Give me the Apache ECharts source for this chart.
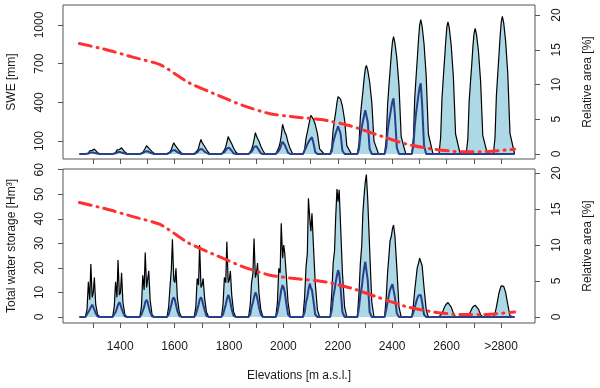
<!DOCTYPE html>
<html>
<head>
<meta charset="utf-8">
<script src="https://cdn.jsdelivr.net/npm/echarts@6/dist/echarts.min.js"></script>
<style>
  html, body { margin: 0; padding: 0; background: #fff; }
  #chart { width: 600px; height: 388px; }
</style>
</head>
<body>
<div id="chart"></div>
<script>
// elevation bands (one tick per band)
var bands = ['1300','1400','1500','1600','1700','1800','1900','2000',
             '2100','2200','2300','2400','2500','2600','2700','>2800'];
var labelIdx = [1, 3, 5, 7, 9, 11, 13, 15];

// position of the samples inside one band (band = 1 unit wide)
var offsets = [-0.5, -0.28, -0.22, -0.17, -0.12, -0.08, -0.03, 0.01, 0.05, 0.1, 0.17, 0.25, 0.33, 0.5];

// SWE [mm] - black curve, one row per band
var sweMax = [
  [0,0,0,8,25,38,28,25,38,28,10,2,0,0],
  [0,0,0,10,30,45,35,30,48,35,15,3,0,0],
  [0,0,2,12,25,45,64,50,45,32,18,5,0,0],
  [0,0,3,18,35,60,88,70,60,45,25,8,0,0],
  [0,0,5,25,45,80,112,90,80,60,35,10,0,0],
  [0,0,5,30,55,90,135,115,100,80,45,15,0,0],
  [0,0,8,35,70,110,165,140,120,100,60,25,0,0],
  [0,0,10,50,90,140,230,200,170,150,90,40,5,0],
  [0,0,35,120,170,210,265,300,290,270,230,160,40,0],
  [0,0,55,190,265,320,400,445,450,425,370,265,65,0],
  [0,0,80,290,400,480,590,660,686,650,560,400,100,0],
  [0,0,110,380,530,640,780,870,909,860,745,530,135,0],
  [0,0,125,440,605,730,895,1000,1042,990,855,605,155,0],
  [0,0,125,430,595,720,880,985,1025,975,840,595,155,0],
  [0,0,115,410,565,680,840,935,974,925,800,565,145,0],
  [0,0,130,450,620,750,920,1025,1067,1015,875,620,160,0]
];
// SWE [mm] - blue curve
var sweMean = [
  [0,0,0,4,8,12,15,12,10,5,1,0,0,0],
  [0,0,0,5,10,15,18,15,13,7,1,0,0,0],
  [0,0,1,7,13,20,25,22,18,10,2,0,0,0],
  [0,0,2,10,18,28,35,30,24,14,2,0,0,0],
  [0,0,2,12,22,35,45,38,30,18,3,0,0,0],
  [0,0,3,15,28,42,55,48,40,25,5,0,0,0],
  [0,0,4,18,35,55,70,60,50,30,6,0,0,0],
  [0,0,5,25,45,70,95,85,70,45,10,0,0,0],
  [0,0,15,50,75,90,110,125,130,90,15,0,0,0],
  [0,0,25,90,130,160,190,215,225,160,25,0,0,0],
  [0,0,40,140,205,250,300,340,355,250,40,0,0,0],
  [0,0,50,175,250,300,365,410,432,300,50,0,0,0],
  [0,0,65,220,320,385,465,520,548,385,65,0,0,0],
  [0,0,0,0,0,0,0,0,0,0,0,0,0,0],
  [0,0,0,0,0,0,0,0,0,0,0,0,0,0],
  [0,0,0,0,0,0,0,0,0,0,0,0,0,0]
];
// Total water storage [Hm3] - black curve
var twsMax = [
  [0,0,3,14.3,7,21.6,8,10,16.1,5,1,0,0,0],
  [0,0,4,14.3,8,23.2,9,10,18,6,1,0,0,0],
  [0,0,4,17,11,26.3,12,12,18.8,7,1,0,0,0],
  [0,0,4,12,19.5,31.7,15,14,19.8,8,2,0,0,0],
  [0,0,4,15.7,13,29.3,12,13,15.7,8,2,0,0,0],
  [0,0,5,16.1,14,30.7,14,15,18.7,9,2,0,0,0],
  [0,0,5,14,17.7,32,16,18,22,10,3,0,0,0],
  [0,0,6,19.8,18,38.2,24,29.3,26,18,6,0,0,0],
  [0,0,8,20,26,48.4,40,35,42.3,30,14,3,0,0],
  [0,0,10,22,27,40,52.1,47,51.8,38,18,4,0,0],
  [0,0,10,22,29,42,50,55,58,48,28,6,0,0],
  [0,0,8,18,25,31,33,36,37.5,33,20,4,0,0],
  [0,0,5,11,16,20,22,24,24.5,21,12,3,0,0],
  [0,0,0.5,1.5,2.8,4,5,5.6,5.9,5.5,4,1.5,0,0],
  [0,0,0.3,1,2.2,3.2,4.2,4.7,4.8,4.4,3.2,1,0,0],
  [0,0,1.5,4,7,9.5,11.5,12.7,13,12.5,10,5,0.5,0]
];
// Total water storage [Hm3] - blue curve
var twsMean = [
  [0,0,0.5,2,3,4,5,4,3,1.5,0.2,0,0,0],
  [0,0,0.5,2,3.5,5,6,5,3.5,2,0.3,0,0,0],
  [0,0,1,2.5,4,6,7,6,4,2,0.3,0,0,0],
  [0,0,1,3,5,7,8,7,5,2.5,0.5,0,0,0],
  [0,0,1,3,5,7,8,7,5,3,0.5,0,0,0],
  [0,0,1,3,5,7,9,8,6,3,0.5,0,0,0],
  [0,0,1,4,6,8,10,9,7,4,1,0,0,0],
  [0,0,2,5,8,11,13,12,10,6,1,0,0,0],
  [0,0,2,6,8,11,13.6,12,11,7,1,0,0,0],
  [0,0,3,8,11,14,17,19.1,18,12,2,0,0,0],
  [0,0,4,9,12,16,20,22.5,23.2,15,2,0,0,0],
  [0,0,3,6,9,11,12.5,13.4,13,8,1.5,0,0,0],
  [0,0,2,4,6,7.5,8.8,9.3,9,6,1,0,0,0],
  [0,0,0,0,0,0,0,0,0,0,0,0,0,0],
  [0,0,0,0,0,0,0,0,0,0,0,0,0,0],
  [0,0,0,0,0,0,0,0,0,0,0,0,0,0]
];
// relative area [%] at the band edges
var relArea = [15.9, 15.0, 13.9, 12.8, 10.3, 8.6, 7.0, 5.8, 5.3, 4.9, 4.0, 2.7, 1.45, 0.7, 0.33, 0.35, 0.7];

var sweTicks = [100, 400, 700, 1000];
var twsTicks = [0, 10, 20, 30, 40, 50, 60];
var areaTicks = [0, 5, 10, 15, 20];

function toXY(rows) {
  var out = [];
  rows.forEach(function (row, i) {
    row.forEach(function (v, j) { out.push([i + offsets[j], v]); });
  });
  return out;
}
var areaXY = relArea.map(function (v, k) { return [k - 0.5, v]; });

var font = 'Liberation Sans, Arial, sans-serif';
var txt = '#1a1a1a';
var boxCol = '#555';

function yAx(grid, min, max, ticks, name, right, gap, margin) {
  return {
    type: 'value', gridIndex: grid, min: min, max: max,
    position: right ? 'right' : 'left',
    name: name, nameLocation: 'middle', nameGap: gap, nameRotate: 90,
    nameTextStyle: { fontFamily: font, fontSize: 12, color: txt },
    axisLine: { show: false, onZero: false },
    splitLine: { show: false },
    axisTick: { show: true, length: 5, customValues: ticks, lineStyle: { color: boxCol } },
    axisLabel: { customValues: ticks, rotate: 90, margin: margin, fontFamily: font, fontSize: 12, color: txt,
      formatter: function (v) { return String(v); } }
  };
}
function xAx(grid, withLabels) {
  return {
    type: 'value', gridIndex: grid, min: -1.103, max: 16.25, position: 'bottom',
    axisLine: { show: false, onZero: false },
    splitLine: { show: false },
    axisTick: { show: true, length: 5, customValues: bands.map(function (b, i) { return i; }), lineStyle: { color: boxCol } },
    axisLabel: withLabels ? {
      customValues: labelIdx, margin: 18, fontFamily: font, fontSize: 12, color: txt,
      formatter: function (v) { return bands[Math.round(v)]; }
    } : { show: false },
    name: withLabels ? 'Elevations [m a.s.l.]' : '',
    nameLocation: 'middle', nameGap: 47,
    nameTextStyle: { fontFamily: font, fontSize: 12, color: txt }
  };
}

function peakSeries(xi, yi, maxRows, meanRows) {
  return [
    { type: 'line', xAxisIndex: xi, yAxisIndex: yi, data: toXY(maxRows), symbol: 'none',
      lineStyle: { color: '#000', width: 1.2 }, areaStyle: { color: '#add8e6', opacity: 1 }, z: 2 },
    { type: 'line', xAxisIndex: xi, yAxisIndex: yi, data: toXY(meanRows), symbol: 'none',
      lineStyle: { color: '#27408b', width: 2 }, z: 3 }
  ];
}
function areaSeries(xi, yi) {
  return { type: 'line', xAxisIndex: xi, yAxisIndex: yi, data: areaXY, symbol: 'none', smooth: 0.2,
    lineStyle: { color: '#ff3030', width: 3, type: [12, 6, 1, 6], cap: 'round' }, z: 4 };
}

var chart = echarts.init(document.getElementById('chart'));
var option = {
  animation: false,
  backgroundColor: '#fff',
  grid: [
    { left: 63, right: 65, top: 5, height: 154, show: true, borderColor: boxCol, borderWidth: 1,
      containLabel: false, outerBoundsMode: 'none' },
    { left: 63, right: 65, top: 169, height: 154, show: true, borderColor: boxCol, borderWidth: 1,
      containLabel: false, outerBoundsMode: 'none' }
  ],
  xAxis: [xAx(0, false), xAx(1, true)],
  yAxis: [
    yAx(0, -38.8, 1155, sweTicks, 'SWE [mm]', false, 45, 17),
    yAx(0, -0.72, 21.44, areaTicks, 'Relative area [%]', true, 47, 16),
    yAx(1, -2.45, 60.3, twsTicks, 'Total water storage [Hm\u00b3]', false, 45, 17),
    yAx(1, -0.84, 20.56, areaTicks, 'Relative area [%]', true, 47, 16)
  ],
  series: [].concat(
    peakSeries(0, 0, sweMax, sweMean),
    [areaSeries(0, 1)],
    peakSeries(1, 2, twsMax, twsMean),
    [areaSeries(1, 3)]
  )
};
chart.setOption(option);
</script>
</body>
</html>
